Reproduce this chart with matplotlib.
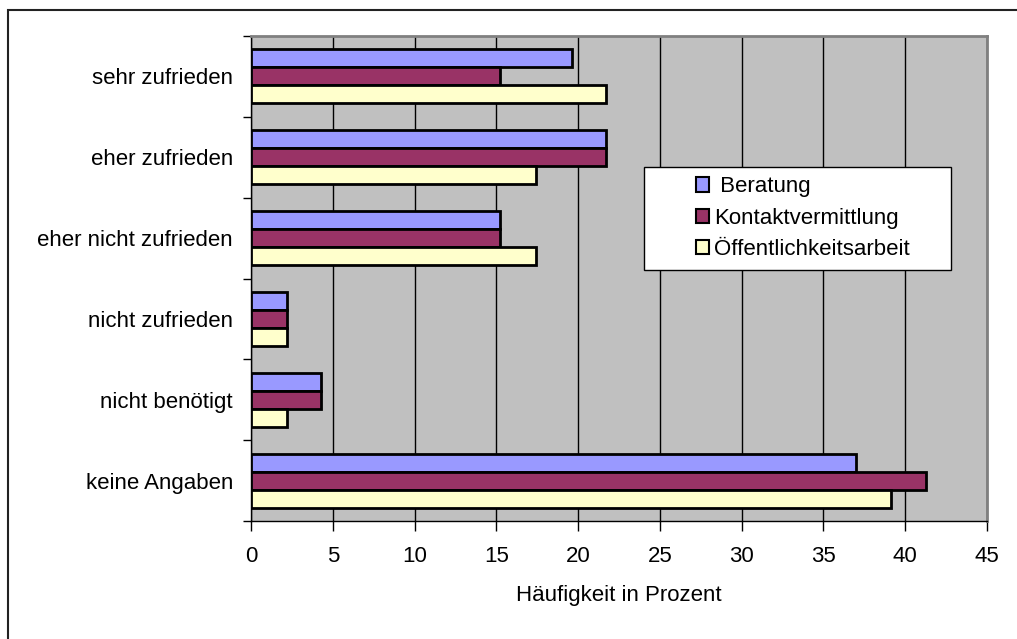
import numpy as np
import matplotlib.pyplot as plt
from matplotlib.patches import Rectangle

plt.rcParams['font.family'] = ['Liberation Sans', 'DejaVu Sans']

categories = ["sehr zufrieden", "eher zufrieden", "eher nicht zufrieden",
              "nicht zufrieden", "nicht benötigt", "keine Angaben"]
series_names = [" Beratung", "Kontaktvermittlung", "Öffentlichkeitsarbeit"]
beratung = [19.6, 21.7, 15.2, 2.2, 4.3, 37.0]
kontakt = [15.2, 21.7, 15.2, 2.2, 4.3, 41.3]
oeffentlich = [21.7, 17.4, 17.4, 2.2, 2.2, 39.1]
colors = ["#9999ff", "#993366", "#ffffcc"]

W, H = 1017, 639
fig = plt.figure(figsize=(W / 100, H / 100), dpi=100)
fig.patch.set_facecolor("white")

# outer chart frame (cut off at right/bottom in the original)
fig.patches.append(Rectangle((8 / W, -0.1), 1.2, 1 - 10 / H + 0.1,
                             transform=fig.transFigure, fill=False,
                             edgecolor="#222222", linewidth=1.5))

left, right, top, bottom = 251, 987, 36, 521
ax = fig.add_axes([left / W, 1 - bottom / H, (right - left) / W, (bottom - top) / H])
ax.set_facecolor("#c0c0c0")

n = len(categories)
y = np.arange(n)
bh = 0.223
for i, (vals, name) in enumerate(zip([beratung, kontakt, oeffentlich], series_names)):
    ax.barh(y + (i - 1) * bh, vals, height=bh, color=colors[i], edgecolor="black",
            linewidth=2, label=name, zorder=3)

ax.set_xlim(0, 45)
ax.set_ylim(n - 0.5, -0.5)
ax.set_xticks(np.arange(0, 46, 5))
ax.xaxis.grid(True, color="black", linewidth=1, zorder=1)
ax.set_axisbelow(True)

fs = 16
ax.set_yticks(y)
ax.set_yticklabels(categories, fontsize=fs)
ax.tick_params(axis="y", length=0, pad=13)
ax.set_yticks(np.arange(-0.5, n, 1), minor=True)
ax.tick_params(axis="y", which="minor", length=6, width=1, direction="out")
ax.tick_params(axis="x", length=7, width=1, direction="out", labelsize=fs, pad=11)
ax.set_xlabel("Häufigkeit in Prozent", fontsize=fs, labelpad=13)

for s in ["top", "right"]:
    ax.spines[s].set_color("#808080")
    ax.spines[s].set_linewidth(2)
for s in ["left", "bottom"]:
    ax.spines[s].set_color("black")
    ax.spines[s].set_linewidth(1)

# legend box (white, black border) with entries placed inside
def ax_x(px):
    return (px - left) / (right - left)

def ax_y(py):
    return 1 - (py - top) / (bottom - top)

ax.add_patch(Rectangle((ax_x(644), ax_y(270)), ax_x(951) - ax_x(644), ax_y(167) - ax_y(270),
                       transform=ax.transAxes, facecolor="white", edgecolor="black",
                       linewidth=1, zorder=5))
leg = ax.legend(loc="center left", bbox_to_anchor=(ax_x(696), ax_y(218)),
                frameon=False, fontsize=fs, handlelength=0.6, handleheight=0.6,
                handletextpad=0.2, borderpad=0, labelspacing=0.46, borderaxespad=0)
leg.set_zorder(6)
for h in leg.legend_handles:
    h.set_linewidth(1.5)

fig.savefig("out.png", dpi=100)
